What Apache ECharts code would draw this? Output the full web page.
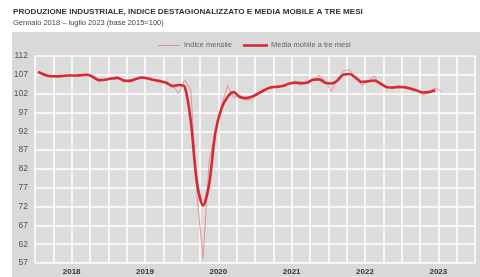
<!DOCTYPE html>
<html>
<head>
<meta charset="utf-8">
<script src="https://cdn.jsdelivr.net/npm/echarts@6/dist/echarts.min.js"></script>
<style>
html, body { margin: 0; padding: 0; background: #fff; }
#main { width: 480px; height: 277px; }
</style>
</head>
<body>
<div id="main"></div>
<script>
// anni sull'asse x (etichetta a metà anno)
var years = ['2018', '2019', '2020', '2021', '2022', '2023'];
// indice mensile, gen 2018 - lug 2023
var indiceMensile = [
	107.6, 106.7, 107.0, 106.3, 106.6, 107.0, 106.7, 106.8, 107.2, 106.9, 105.2, 105.9,
	106.2, 106.4, 105.0, 105.6, 105.7, 106.5, 106.1, 105.4, 105.5, 104.6, 104.4, 102.0,
	105.7, 103.0, 75.0, 58.2, 84.0, 92.0, 98.5, 104.2, 101.0, 101.6, 100.3, 100.4,
	102.4, 103.2, 103.5, 103.9, 104.2, 104.5, 105.4, 104.3, 105.0, 105.6, 106.9, 105.5,
	102.6, 106.0, 108.0, 108.4, 105.9, 104.2, 105.3, 106.7, 104.3, 103.3, 103.8, 103.5,
	104.0, 103.5, 103.0, 101.6, 102.6, 103.5, 102.6
];
// media mobile a tre mesi, gen 2018 - giu 2023
var mediaMobile = [
	107.8, 107.1, 106.6, 106.6, 106.7, 106.8, 106.8, 106.9, 107.0, 106.4, 105.6, 105.7,
	106.0, 106.2, 105.5, 105.4, 105.9, 106.3, 106.0, 105.6, 105.3, 104.9, 104.0, 104.3,
	103.8, 94.6, 78.4, 72.3, 78.0, 91.5, 98.0, 101.1, 102.4, 101.1, 100.8, 101.2,
	102.0, 102.9, 103.6, 103.8, 104.0, 104.6, 104.9, 104.8, 104.9, 105.7, 105.8, 104.9,
	104.7, 105.5, 107.1, 107.2, 106.2, 105.1, 105.3, 105.5, 104.7, 103.8, 103.6, 103.8,
	103.7, 103.3, 102.8, 102.3, 102.4, 102.9
];
var yMin = 57, yMax = 112, yStep = 5;

var thinColor = '#e58a90';
var redColor = '#d42a33';

function toPoints(arr) {
	return arr.map(function (v, i) { return [i + 0.5, v]; });
}

var myChart = echarts.init(document.getElementById('main'));
var font = 'Liberation Sans Narrow, Arial Narrow, Liberation Sans, sans-serif';
option = {
	backgroundColor: '#fff',
	animation: false,
	title: {
		text: 'PRODUZIONE INDUSTRIALE, INDICE DESTAGIONALIZZATO E MEDIA MOBILE A TRE MESI',
		subtext: 'Gennaio 2018 \u2013 luglio 2023 (base 2015=100)',
		left: 13,
		top: 8,
		padding: 0,
		itemGap: 3,
		textStyle: { fontFamily: font, fontSize: 8.1, fontWeight: 'bold', color: '#333' },
		subtextStyle: { fontFamily: font, fontSize: 7.5, color: '#444' }
	},
	// pannello grigio + legenda
	graphic: [{
		type: 'rect',
		z: -10,
		shape: { x: 12, y: 32, width: 468, height: 245 },
		style: { fill: '#d9d9d9' }
	}, {
		type: 'line',
		shape: { x1: 158, y1: 45.5, x2: 180, y2: 45.5 },
		style: { stroke: thinColor, lineWidth: 1 }
	}, {
		type: 'text',
		left: 184,
		top: 41,
		style: { text: 'Indice mensile', font: '7.5px ' + font, fill: '#666' }
	}, {
		type: 'line',
		shape: { x1: 243, y1: 45.5, x2: 268, y2: 45.5 },
		style: { stroke: redColor, lineWidth: 2.6 }
	}, {
		type: 'text',
		left: 271,
		top: 41,
		style: { text: 'Media mobile a tre mesi', font: '7.5px ' + font, fill: '#666' }
	}],
	grid: {
		left: 35,
		right: 5,
		top: 56,
		bottom: 14,
		show: true,
		backgroundColor: '#dcdcdc',
		borderWidth: 0
	},
	xAxis: {
		type: 'value',
		min: 0,
		max: years.length * 12,
		interval: 3,
		axisLine: { show: false },
		axisTick: { show: false },
		splitLine: { lineStyle: { color: '#fff', width: 1.5 } },
		axisLabel: {
			margin: 5,
			fontFamily: font,
			fontSize: 8,
			fontWeight: 'bold',
			color: '#333',
			formatter: function (v) {
				v = Math.round(v);
				if (v % 12 === 6) return years[(v - 6) / 12];
				return '';
			}
		}
	},
	yAxis: {
		type: 'value',
		min: yMin,
		max: yMax,
		interval: yStep,
		axisLine: { show: false },
		axisTick: { show: false },
		splitLine: { lineStyle: { color: '#fff', width: 1.5 } },
		axisLabel: { margin: 7, fontFamily: font, fontSize: 8.5, color: '#555' }
	},
	series: [{
		name: 'Indice mensile',
		type: 'line',
		symbol: 'none',
		data: toPoints(indiceMensile),
		lineStyle: { color: thinColor, width: 0.9 },
		z: 2
	}, {
		name: 'Media mobile a tre mesi',
		type: 'line',
		symbol: 'none',
		smooth: 0.3,
		data: toPoints(mediaMobile),
		lineStyle: { color: redColor, width: 2.6 },
		z: 3
	}]
};
myChart.setOption(option);
</script>
</body>
</html>
